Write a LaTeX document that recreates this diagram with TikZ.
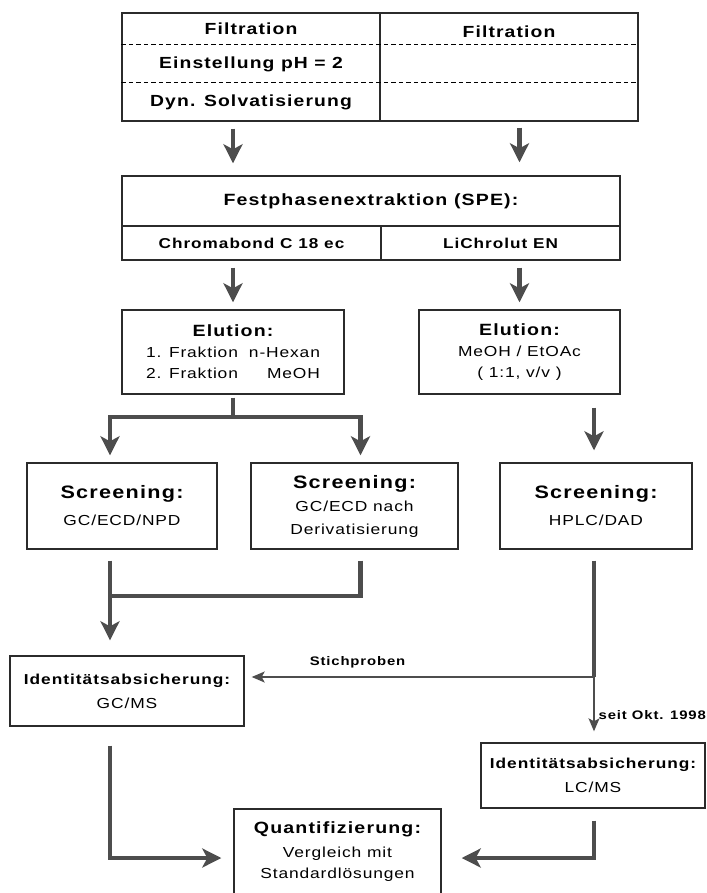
\documentclass[tikz,border=0pt]{standalone}
\usepackage{fontspec}
\setmainfont{Liberation Sans}[FakeStretch=1.2,LetterSpace=6,BoldFeatures={LetterSpace=7}]
\usepackage{tikz}
\usetikzlibrary{arrows.meta,positioning,calc}
\definecolor{pfeilgrau}{HTML}{4D4D4D}
\definecolor{randgrau}{HTML}{2B2B2B}
\newcommand{\kopf}[1]{{\fontsize{16.3}{20}\selectfont\bfseries #1}}
\newcommand{\kopfS}[1]{{\fontsize{18}{20}\selectfont\bfseries #1}}
\newcommand{\kopfI}[1]{{\fontsize{14.4}{20}\selectfont\bfseries #1}}

\begin{document}
\begin{tikzpicture}[
    x=1pt,y=-1pt,
    font=\fontsize{14.5}{21}\selectfont,
    kasten/.style={draw=randgrau,line width=1.4pt,align=center,inner sep=0pt},
    zelle/.style={font=\fontsize{16.1}{18}\selectfont\bfseries},
    trenn/.style={dash pattern=on 4.5pt off 3pt,line width=1.2pt,draw=black},
    pfeil/.style={-{Stealth[length=19pt,width=19pt,inset=5pt]},line width=4.5pt,draw=pfeilgrau},
    balken/.style={line width=4.5pt,draw=pfeilgrau},
    duenn/.style={-{Stealth[length=13pt,width=11pt,inset=3pt]},line width=1.4pt,draw=pfeilgrau},
    hinweis/.style={font=\fontsize{12.4}{14}\selectfont\bfseries,inner sep=1pt}
  ]
  \useasboundingbox (0,0) rectangle (706,893);

  % Vorbehandlung
  \node[kasten,minimum width=258pt,minimum height=108pt] (vorL) at (251,67) {};
  \node[kasten,minimum width=258pt,minimum height=108pt] (vorR) at (509,67) {};
  \draw[trenn] (vorL.west |- 0,44.3) -- (vorR.east |- 0,44.3);
  \draw[trenn] (vorL.west |- 0,82.7) -- (vorR.east |- 0,82.7);
  \node[zelle] (filtL) at (251,29) {Filtration};
  \node[zelle] (phL) at (251,64) {Einstellung pH = 2};
  \node[zelle] (solvL) at (251,102) {Dyn. Solvatisierung};
  \node[zelle] (filtR) at (509,32) {Filtration};

  % SPE
  \node[kasten,minimum width=498pt,minimum height=50pt] (spe) at (371,201) {\kopf{Festphasenextraktion (SPE):}};
  \node[kasten,minimum width=259pt,minimum height=34pt,font=\fontsize{14.3}{16}\selectfont\bfseries] (chrom) at (251.5,243) {Chromabond C 18 ec};
  \node[kasten,minimum width=239pt,minimum height=34pt,font=\fontsize{14.3}{16}\selectfont\bfseries] (lichr) at (500.5,243) {LiChrolut EN};

  % Elution
  \node[kasten,minimum width=222pt,minimum height=84pt] (eluL) at (233,352)
    {\kopf{Elution:}\\1. Fraktion\makebox[82pt][r]{n-Hexan}\\2. Fraktion\makebox[82pt][r]{MeOH}};
  \node[kasten,minimum width=201pt,minimum height=84pt] (eluR) at (519.5,352)
    {\kopf{Elution:}\\MeOH / EtOAc\\( 1:1, v/v )};

  % Screening
  \node[kasten,minimum width=190pt,minimum height=86pt] (scr1) at (122,506) {\kopfS{Screening:}\\[6pt]GC/ECD/NPD};
  \node[kasten,minimum width=207pt,minimum height=86pt] (scr2) at (354.5,506) {\kopfS{Screening:}\\[2pt]GC/ECD nach\\[2pt]Derivatisierung};
  \node[kasten,minimum width=192pt,minimum height=86pt] (scr3) at (596,506) {\kopfS{Screening:}\\[6pt]HPLC/DAD};

  % Absicherung und Quantifizierung
  \node[kasten,minimum width=234pt,minimum height=70pt] (gcms) at (127,691) {\kopfI{Identitätsabsicherung:}\\[3pt]GC/MS};
  \node[kasten,minimum width=224pt,minimum height=65pt] (lcms) at (593,775.5) {\kopfI{Identitätsabsicherung:}\\[3pt]LC/MS};
  \node[kasten,minimum width=207pt,minimum height=86pt] (quant) at (337.5,852) {\kopf{Quantifizierung:}\\[3pt]Vergleich mit\\Standardlösungen};

  \coordinate (gabel) at (233,417);
  \coordinate (sammel) at (110,596);
  \coordinate (abzw) at (594,677);
  \coordinate (eckeL) at (110,858);
  \coordinate (eckeR) at (594,858);

  \draw[pfeil,shorten <=7pt,shorten >=12pt] (vorL.south -| eluL) -- (spe.north -| eluL);
  \draw[pfeil,shorten <=6pt,shorten >=13pt] (vorR.south -| eluR) -- (spe.north -| eluR);
  \draw[pfeil,shorten <=7pt,shorten >=7pt] (chrom.south -| eluL) -- (eluL.north);
  \draw[pfeil,shorten <=7pt,shorten >=7pt] (lichr.south -| eluR) -- (eluR.north);

  \draw[balken,shorten <=3pt] (eluL.south) -- (gabel);
  \draw[pfeil,shorten >=7pt] (gabel) -| (scr1.north -| sammel);
  \draw[pfeil,shorten >=7pt] (gabel) -| ([xshift=6pt]scr2.north);
  \draw[pfeil,shorten <=13pt,shorten >=12pt] (eluR.south -| abzw) -- (scr3.north -| abzw);

  \draw[balken,shorten <=11pt] ([xshift=6pt]scr2.south) |- (sammel);
  \draw[pfeil,shorten <=11pt,shorten >=15pt] (scr1.south -| sammel) -- (gcms.north -| sammel);
  \draw[balken,shorten <=11pt] (scr3.south -| abzw) -- (abzw);
  \draw[duenn,shorten >=7pt] (abzw) -- node[hinweis,above=7pt,pos=0.677] {Stichproben} (gcms.east |- abzw);
  \draw[duenn,shorten >=11pt] (abzw) -- node[hinweis,right=3pt,pos=0.58] {seit Okt. 1998} (lcms.north -| abzw);

  \draw[pfeil,shorten <=19pt,shorten >=12pt] (gcms.south -| eckeL) |- (quant.west |- eckeL);
  \draw[pfeil,shorten <=12pt,shorten >=20pt] (lcms.south -| eckeR) |- (quant.east |- eckeR);
\end{tikzpicture}
\end{document}
